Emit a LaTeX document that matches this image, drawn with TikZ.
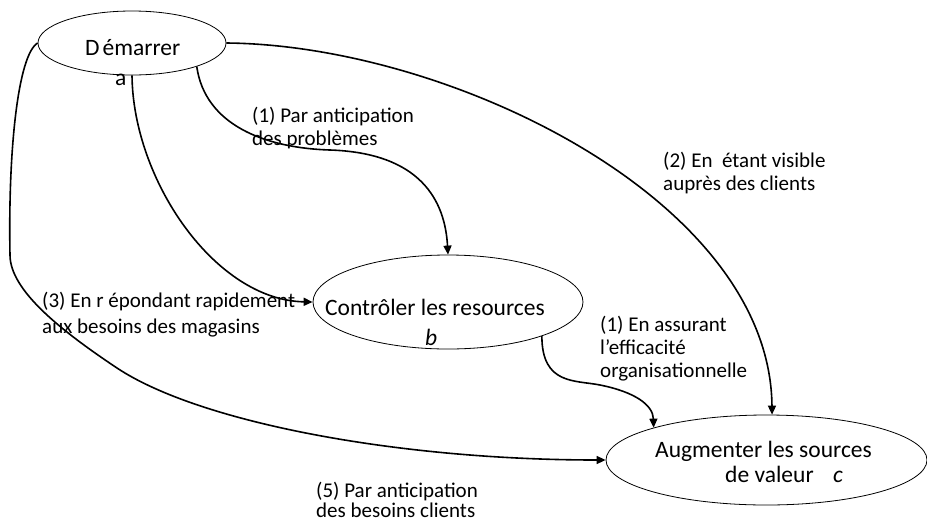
\documentclass[tikz,border=0pt]{standalone}
\usepackage{fontspec}
\setmainfont{Carlito}
\usetikzlibrary{shapes.geometric,arrows.meta}
\begin{document}
\begin{tikzpicture}[x=1pt,y=-1pt,
 ell/.style={draw, ellipse, line width=0.8pt, inner sep=0pt},
 conn/.style={line width=1.6pt, -{Triangle[length=9pt,width=8pt]}},
 lab/.style={anchor=base west, inner sep=0pt, font=\fontsize{21}{24}\selectfont},
 ntext/.style={anchor=base west, inner sep=0pt, font=\fontsize{23.5}{27}\selectfont}]
\useasboundingbox (0,0) rectangle (927,523);
% ellipses
\node[ell, minimum width=188pt, minimum height=64pt] (a) at (132,43) {};
\node[ell, minimum width=270pt, minimum height=94pt] (b) at (448,302) {};
\node[ell, minimum width=321pt, minimum height=90pt] (c) at (766.5,460) {};
% texts in ellipses
\node[ntext] (ta) at (85,55) {D\kern3pt émarrer};
\node[ntext] (ta2) at (115,85) {a};
\node[ntext] (tb) at (325,315) {Contrôler les resources};
\node[ntext] (tb2) at (425,345) {\itshape b};
\node[ntext] (tc) at (655,457) {Augmenter les sources};
\node[ntext] (tc2) at (725,482) {de valeur};
\node[ntext] (tc3) at (833,482) {\itshape c};
% labels
\node[lab] (l1a) at (252,122) {(1) Par anticipation};
\node[lab] (l1b) at (252,145) {des problèmes};
\node[lab] (l2a) at (663,167) {(2) En~ étant visible};
\node[lab] (l2b) at (663,190) {auprès des clients};
\node[lab] (l3a) at (42,307) {(3) En r épondant rapidement};
\node[lab] (l3b) at (42,333) {aux besoins des magasins};
\node[lab] (l4a) at (600,331) {(1) En assurant};
\node[lab] (l4b) at (600,354) {l’efficacité};
\node[lab] (l4c) at (600,377) {organisationnelle};
\node[lab] (l5a) at (316,497) {(5) Par anticipation};
\node[lab] (l5b) at (316,517) {des besoins clients};
% connectors
\draw[conn] (a.east) .. controls (450,45) and (770,200) .. (c.83);
\draw[conn] (a.-20) .. controls (205,125) and (265,148) .. (330,150) .. controls (420,153) and (445,200) .. (b.north);
\draw[conn] (a.south) .. controls (133,180) and (215,300) .. (b.west);
\draw[conn] (a.west) .. controls (18,55) and (8,150) .. (10,255) .. controls (10,290) and (60,330) .. (117,368) .. controls (200,423) and (400,460) .. (c.west);
\draw[conn] (b.-20) .. controls (542,385) and (575,380) .. (600,385) .. controls (635,392) and (653,405) .. (c.164);
\end{tikzpicture}
\end{document}
